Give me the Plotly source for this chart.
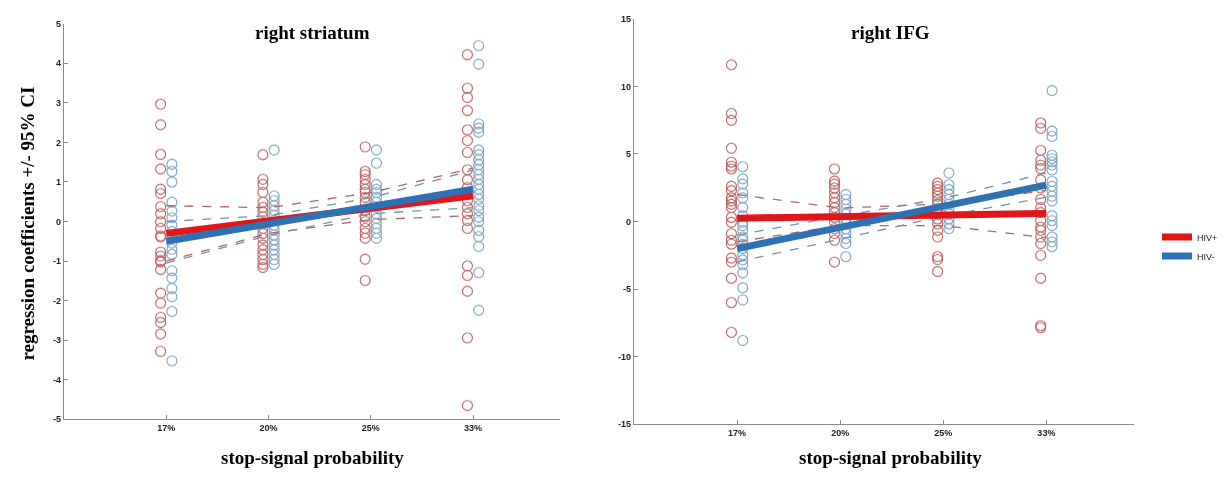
import plotly.graph_objects as go

categories = ["17%", "20%", "25%", "33%"]

# ---------- left panel: right striatum ----------
str_pos = {
    "17%": [2.97, 2.45, 1.70, 1.33, 0.82, 0.71, 0.38, 0.20, 0.0, -0.17, -0.36, -0.39, -0.77, -0.87, -0.99, -1.02, -1.21, -1.81, -2.06, -2.42, -2.55, -2.84, -3.28],
    "20%": [1.69, 1.07, 0.94, 0.74, 0.49, 0.36, 0.24, 0.12, -0.05, -0.17, -0.30, -0.42, -0.59, -0.71, -0.83, -0.96, -1.08, -1.16],
    "25%": [1.89, 1.27, 1.19, 1.07, 0.94, 0.82, 0.74, 0.61, 0.49, 0.28, 0.12, 0.0, -0.17, -0.29, -0.42, -0.95, -1.49],
    "33%": [4.22, 3.37, 3.14, 2.81, 2.32, 2.05, 1.75, 1.31, 1.06, 0.86, 0.53, 0.36, 0.20, 0.03, -0.17, -1.12, -1.36, -1.76, -2.94, -4.65],
}
str_neg = {
    "17%": [1.45, 1.27, 1.0, 0.49, 0.27, 0.10, -0.09, -0.25, -0.38, -0.54, -0.70, -0.83, -1.24, -1.43, -1.69, -1.90, -2.27, -3.52],
    "20%": [1.81, 0.65, 0.53, 0.40, 0.28, 0.16, 0.03, -0.09, -0.21, -0.34, -0.46, -0.59, -0.71, -0.83, -0.96, -1.08],
    "25%": [1.81, 1.48, 0.94, 0.82, 0.74, 0.61, 0.49, 0.37, 0.20, 0.08, -0.05, -0.17, -0.29, -0.42],
    "33%": [4.45, 3.98, 2.47, 2.36, 2.26, 1.81, 1.69, 1.56, 1.44, 1.31, 1.19, 1.07, 0.94, 0.82, 0.69, 0.57, 0.40, 0.28, 0.11, 0.0, -0.22, -0.38, -0.63, -1.29, -2.24],
}
str_fit_pos = [-0.30, 0.03, 0.35, 0.65]
str_up_pos = [0.40, 0.35, 0.73, 1.35]
str_lo_pos = [-1.00, -0.30, 0.05, 0.15]
str_fit_neg = [-0.50, -0.07, 0.37, 0.82]
str_up_neg = [0.00, 0.15, 0.60, 1.30]
str_lo_neg = [-1.05, -0.35, 0.20, 0.35]
str_yticks = [-5, -4, -3, -2, -1, 0, 1, 2, 3, 4, 5]

# ---------- right panel: right IFG ----------
ifg_pos = {
    "17%": [11.6, 8.0, 7.5, 5.43, 4.4, 4.1, 3.9, 2.61, 2.30, 1.76, 1.52, 1.28, 1.04, 0.31, -0.05, -0.89, -1.38, -1.67, -2.7, -3.0, -4.2, -6.0, -8.2],
    "20%": [3.9, 3.0, 2.78, 2.49, 2.12, 1.76, 1.40, 1.04, 0.67, 0.31, -0.05, -0.53, -0.89, -1.38, -3.0],
    "25%": [2.85, 2.61, 2.37, 2.12, 1.88, 1.57, 1.28, 0.92, 0.56, 0.2, -0.17, -0.65, -1.14, -2.6, -2.8, -3.7],
    "33%": [7.3, 6.9, 5.27, 4.54, 4.18, 3.93, 3.09, 2.49, 1.64, 1.04, 0.67, 0.07, -0.41, -0.65, -1.14, -1.62, -2.5, -4.2, -7.7, -7.85],
}
ifg_neg = {
    "17%": [4.06, 3.17, 2.78, 2.12, 1.76, 1.04, 0.43, -0.05, -0.29, -0.65, -1.14, -1.38, -1.67, -1.98, -2.46, -2.83, -3.19, -3.79, -4.9, -5.8, -8.8],
    "20%": [2.0, 1.64, 1.28, 0.92, 0.56, 0.20, -0.17, -0.53, -0.89, -1.25, -1.62, -2.6],
    "25%": [3.6, 2.73, 2.37, 2.0, 1.64, 1.28, 0.92, 0.56, 0.20, -0.17, -0.53],
    "33%": [9.7, 6.7, 6.3, 4.91, 4.66, 4.42, 4.18, 3.82, 2.97, 2.61, 2.25, 1.88, 1.52, 0.43, 0.07, -0.29, -1.14, -1.50, -1.86],
}
ifg_fit_pos = [0.25, 0.40, 0.50, 0.60]
ifg_up_pos = [2.00, 1.00, 1.30, 2.30]
ifg_lo_pos = [-1.50, -0.30, -0.30, -1.20]
ifg_fit_neg = [-2.00, -0.45, 1.10, 2.70]
ifg_up_neg = [-1.00, 0.40, 1.70, 3.60]
ifg_lo_neg = [-3.00, -1.30, 0.40, 1.80]
ifg_yticks = [-15, -10, -5, 0, 5, 10, 15]

# ---------- styles ----------
RED_PT = "#b25050"
BLUE_PT = "#6d98b8"
RED_LINE = "#e0161b"
BLUE_LINE = "#2f72b4"
RED_DASH = "#b46464"
BLUE_DASH = "#7292b2"
OFF = 0.055

W, H = 1225, 477
# page body has an 8px margin: convert window pixel positions to paper fractions
M = 8


def px(x):
    return (x - M) / W


def py(y):
    return 1 - (y - M) / H


fig = go.Figure()


def add_panel(pos, neg, fit_p, up_p, lo_p, fit_n, up_n, lo_n, xa, ya, show_legend):
    idx = {c: i + 1 for i, c in enumerate(categories)}
    for data, col, sign in [(pos, RED_PT, -1), (neg, BLUE_PT, 1)]:
        xs, ys = [], []
        for c in categories:
            for v in data[c]:
                xs.append(idx[c] + sign * OFF)
                ys.append(v)
        fig.add_trace(go.Scatter(x=xs, y=ys, mode="markers", xaxis=xa, yaxis=ya,
                                 marker=dict(symbol="circle-open", size=10, color=col,
                                             line=dict(width=1.1, color=col)),
                                 opacity=0.9, showlegend=False, hoverinfo="skip"))
    xc = [1, 2, 3, 4]
    for ci, col in [(up_p, RED_DASH), (lo_p, RED_DASH), (up_n, BLUE_DASH), (lo_n, BLUE_DASH)]:
        fig.add_trace(go.Scatter(x=xc, y=ci, mode="lines", xaxis=xa, yaxis=ya,
                                 line=dict(color=col, width=1.3, dash="dash"),
                                 showlegend=False, hoverinfo="skip"))
    fig.add_trace(go.Scatter(x=xc, y=fit_p, mode="lines", xaxis=xa, yaxis=ya, name="HIV+",
                             line=dict(color=RED_LINE, width=7), showlegend=show_legend,
                             legendrank=1))
    fig.add_trace(go.Scatter(x=xc, y=fit_n, mode="lines", xaxis=xa, yaxis=ya, name="HIV-",
                             line=dict(color=BLUE_LINE, width=7), showlegend=show_legend,
                             legendrank=2))


add_panel(str_pos, str_neg, str_fit_pos, str_up_pos, str_lo_pos,
          str_fit_neg, str_up_neg, str_lo_neg, "x", "y", False)
add_panel(ifg_pos, ifg_neg, ifg_fit_pos, ifg_up_pos, ifg_lo_pos,
          ifg_fit_neg, ifg_up_neg, ifg_lo_neg, "x2", "y2", True)

tickfont = dict(family="Liberation Sans, Arial", size=9, color="#222", weight="bold")
axis_common = dict(showgrid=False, zeroline=False, showline=True, linecolor="#8a8a8a",
                   linewidth=1.2, ticks="inside", ticklen=4, tickcolor="#8a8a8a",
                   tickfont=tickfont)

fig.update_layout(
    width=W, height=H, paper_bgcolor="white", plot_bgcolor="white",
    margin=dict(l=0, r=0, t=0, b=0),
    xaxis=dict(domain=[px(64), px(560)], range=[0, 4.85], tickvals=[1, 2, 3, 4],
               ticktext=categories, anchor="y", **axis_common),
    yaxis=dict(domain=[py(423), py(19)], range=[-5, 5], tickvals=str_yticks,
               ticktext=[str(t) for t in str_yticks], anchor="x", **axis_common),
    xaxis2=dict(domain=[px(634), px(1134)], range=[0, 4.85], tickvals=[1, 2, 3, 4],
                ticktext=categories, anchor="y2", **axis_common),
    yaxis2=dict(domain=[py(428), py(14)], range=[-15, 15], tickvals=ifg_yticks,
                ticktext=[str(t) for t in ifg_yticks], anchor="x2", **axis_common),
    legend=dict(x=px(1157), y=py(222), xanchor="left", yanchor="top",
                font=dict(family="Liberation Sans, Arial", size=9, color="#222"),
                bgcolor="rgba(0,0,0,0)", tracegroupgap=4, itemwidth=30),
    showlegend=True,
)

serif_bold = dict(family="Liberation Serif, Times New Roman", size=19, color="black")
ann = [
    dict(text="<b>right striatum</b>", x=px(312), y=py(28)),
    dict(text="<b>right IFG</b>", x=px(890), y=py(28)),
    dict(text="<b>stop-signal probability</b>", x=px(312), y=py(462)),
    dict(text="<b>stop-signal probability</b>", x=px(890), y=py(462)),
]
for a in ann:
    fig.add_annotation(xref="paper", yref="paper", showarrow=False, xanchor="center",
                       yanchor="middle", font=serif_bold, **a)
fig.add_annotation(xref="paper", yref="paper", showarrow=False, x=px(27), y=py(223),
                   xanchor="center", yanchor="middle", textangle=-90, font=serif_bold,
                   text="<b>regression coefficients +/- 95% CI</b>")

fig.write_html("out.html")
